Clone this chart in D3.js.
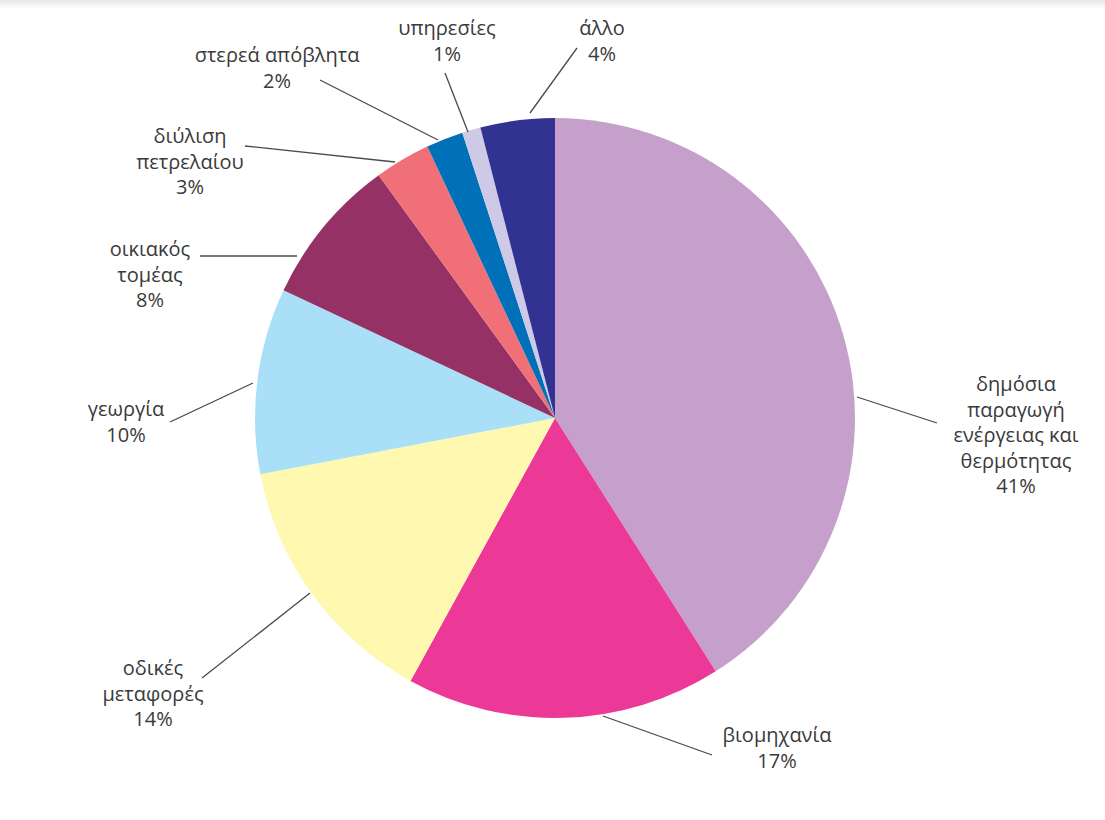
<!DOCTYPE html>
<html>
<head>
<meta charset="utf-8">
<script src="https://cdn.jsdelivr.net/npm/d3@7"></script>
<style>
  html, body { margin: 0; padding: 0; background: #ffffff; }
  svg { display: block; }
  text { font-family: "Open Sans", "Noto Sans", sans-serif; fill: #3a3a3a; }
</style>
</head>
<body>
<svg id="chart" width="1105" height="820"></svg>
<script>
// Emission sources (share in %), clockwise from 12 o'clock
const sectors = [
  "δημόσια παραγωγή ενέργειας και θερμότητας",
  "βιομηχανία",
  "οδικές μεταφορές",
  "γεωργία",
  "οικιακός τομέας",
  "διύλιση πετρελαίου",
  "στερεά απόβλητα",
  "υπηρεσίες",
  "άλλο"
];
const shares = [41, 17, 14, 10, 8, 3, 2, 1, 4];
const colors = ["#c5a0cb", "#ec3897", "#fff8b0", "#a9dff7", "#963165",
                "#f17077", "#0071b9", "#cdc9e6", "#323293"];

// Label text lines (name split over lines, followed by the share)
const labelLines = [
  ["δημόσια", "παραγωγή", "ενέργειας και", "θερμότητας"],
  ["βιομηχανία"],
  ["οδικές", "μεταφορές"],
  ["γεωργία"],
  ["οικιακός", "τομέας"],
  ["διύλιση", "πετρελαίου"],
  ["στερεά απόβλητα"],
  ["υπηρεσίες"],
  ["άλλο"]
];

// Label placement: text centre x, first baseline y, leader line endpoints
const labelLayout = [
  { x: 1016, y: 391, line: [[857, 397], [937, 423]] },
  { x: 777,  y: 742, line: [[603, 716], [712, 755]] },
  { x: 153,  y: 675, line: [[202, 678], [310, 593]] },
  { x: 126,  y: 416, line: [[170, 422], [253, 383]] },
  { x: 150,  y: 256, line: [[200, 256], [297, 256]] },
  { x: 190,  y: 143, line: [[245, 146], [395, 162]] },
  { x: 277,  y: 62,  line: [[320, 80],  [438, 140]] },
  { x: 447,  y: 35,  line: [[445, 73],  [468, 132]] },
  { x: 602,  y: 35,  line: [[577, 48],  [530, 113]] }
];

const svg = d3.select("#chart");
const cx = 555, cy = 418, radius = 300;
const lineHeight = 25.5;

// faint strip along the top edge
const grad = svg.append("defs").append("linearGradient")
  .attr("id", "topfade").attr("x1", 0).attr("y1", 0).attr("x2", 0).attr("y2", 1);
grad.append("stop").attr("offset", "0%").attr("stop-color", "#e6e6e6");
grad.append("stop").attr("offset", "100%").attr("stop-color", "#ffffff");
svg.append("rect").attr("x", 0).attr("y", 0).attr("width", 1105).attr("height", 9)
  .attr("fill", "url(#topfade)");

const pie = d3.pie().sort(null).value(d => d);
const arcs = pie(shares);
const arcGen = d3.arc().innerRadius(0).outerRadius(radius);

svg.append("g")
  .attr("transform", `translate(${cx},${cy})`)
  .selectAll("path")
  .data(arcs)
  .join("path")
  .attr("d", arcGen)
  .attr("fill", (d, i) => colors[i]);

// leader lines
svg.append("g")
  .selectAll("line")
  .data(labelLayout)
  .join("line")
  .attr("x1", d => d.line[0][0]).attr("y1", d => d.line[0][1])
  .attr("x2", d => d.line[1][0]).attr("y2", d => d.line[1][1])
  .attr("stroke", "#4a4a4a")
  .attr("stroke-width", 1.3);

// labels
const labels = svg.append("g")
  .selectAll("text")
  .data(sectors)
  .join("text")
  .attr("text-anchor", "middle")
  .attr("font-size", 20);

labels.each(function (name, i) {
  const lines = labelLines[i].concat([shares[i] + "%"]);
  const pos = labelLayout[i];
  d3.select(this).selectAll("tspan")
    .data(lines)
    .join("tspan")
    .attr("x", pos.x)
    .attr("y", (t, j) => pos.y + j * lineHeight)
    .text(t => t);
});
</script>
</body>
</html>
